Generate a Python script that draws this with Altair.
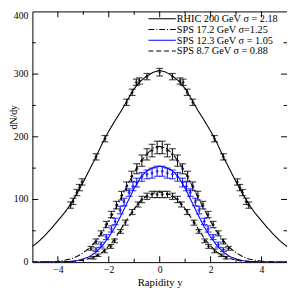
import altair as alt
import pandas as pd

# ---- curves, positive half, mirrored ----
curve_y = [0, 0.25, 0.5, 0.75, 1.0, 1.25, 1.5, 1.75, 2.0, 2.25, 2.5, 2.75,
           3.0, 3.25, 3.5, 3.75, 4.0, 4.25, 4.5, 4.75, 5.0]
rhic_curve = [306, 303, 297, 289, 277, 260, 242, 226, 209, 190, 168, 148,
              128, 110, 92, 78, 66, 54, 43, 33, 25]
sps172_curve = [185, 182, 173, 160, 143, 124, 104, 84, 65, 48, 34, 23,
                15, 9, 5, 3, 1.5, 0.8, 0.4, 0.2, 0.1]
sps123_curve = [153, 151, 146, 135, 118, 97, 76, 56, 40, 26, 16, 9,
                5, 2.5, 1.2, 0.6, 0.3, 0.1, 0.05, 0, 0]
sps87_curve = [112, 110, 106, 98, 85, 70, 54, 38, 26, 16, 10, 6,
               3, 2, 1, 0.5, 0.2, 0.1, 0, 0, 0]

# ---- data points (positive half, mirrored) ----
rhic_py = [0, 0.5, 0.8, 0.92, 1.08, 1.3, 2.15, 2.5, 3.05, 3.15, 3.25, 3.4, 3.5]
rhic_pv = [303, 296, 289, 287, 271, 255, 197, 168, 128, 119, 111, 97, 91]
rhic_pe = [6, 5, 5, 5, 5, 5, 5, 5, 5, 5, 5, 5, 5]

sps172_py = [0.1, 0.3, 0.5, 0.7, 0.9, 1.1, 1.3, 1.5, 1.7, 1.9, 2.1, 2.3, 2.5, 2.7]
sps172_pv = [183, 178, 172, 162, 149, 137, 121, 106, 91, 76, 60, 46, 33, 22]
sps172_pe = [10, 10, 9, 9, 8, 8, 7, 7, 6, 5, 5, 4, 4, 3]

sps123_py = [0.1, 0.3, 0.5, 0.7, 0.9, 1.05, 1.2, 1.4, 1.55, 1.75, 1.9, 2.1, 2.3, 2.5]
sps123_pv = [145, 142, 140, 136, 127, 121, 111, 96, 83, 65, 53, 40, 28, 20]
sps123_pe = [8, 8, 7, 7, 7, 7, 6, 6, 6, 5, 5, 4, 4, 3]

sps87_py = [0.1, 0.3, 0.5, 0.7, 0.85, 1.08, 1.35, 1.54, 1.77, 1.92, 2.16, 2.42, 2.61]
sps87_pv = [108, 108, 105, 100, 92, 80, 63, 49, 34, 25, 18, 11, 7]
sps87_pe = [5, 5, 5, 5, 4, 4, 4, 3, 3, 3, 3, 2, 2]

names = ["RHIC 200 GeV σ = 2.18", "SPS 17.2 GeV σ=1.25",
         "SPS 12.3 GeV σ = 1.05", "SPS 8.7  GeV  σ = 0.88"]
colors = ["black", "black", "#0000ff", "black"]
dashes = [[1, 0], [6, 2, 1, 2], [1, 0], [5, 3]]

ylabel_vals = [0, 100, 200, 300]
ylabel_top = [400]

W, H = 261, 257
xs = alt.Scale(domain=[-5, 5], nice=False)
ys = alt.Scale(domain=[0, 400], nice=False)

xaxis = alt.Axis(values=[-4, -2, 0, 2, 4], ticks=False, domain=False, grid=False,
                 labelFont="Liberation Serif", labelFontSize=10, labelPadding=3,
                 labelColor="black",
                 title="Rapidity y", titleFont="Liberation Serif", titleFontSize=11,
                 titleFontWeight="normal", titlePadding=2, titleColor="black")
yaxis = alt.Axis(values=[0, 100, 200, 300, 400], ticks=False, domain=False, grid=False,
                 labels=False,
                 title="dN/dy", titleFont="Liberation Serif", titleFontSize=10,
                 titleFontWeight="normal", titleX=-14, titleY=108, titleColor="black")

def X(f):
    return alt.X(f, scale=xs, axis=xaxis)

def Y(f):
    return alt.Y(f, scale=ys, axis=yaxis)

def mirror_curve(vals):
    rows = []
    for yy, v in zip(curve_y, vals):
        rows.append((-yy, v))
        if yy != 0:
            rows.append((yy, v))
    rows.sort()
    return pd.DataFrame(rows, columns=["y", "v"])

def mirror_pts(py, pv, pe):
    rows = []
    for yy, v, e in zip(py, pv, pe):
        rows.append((-yy, v, v - e, v + e))
        if yy != 0:
            rows.append((yy, v, v - e, v + e))
    return pd.DataFrame(rows, columns=["y", "v", "lo", "hi"])

layers = []
curves = [rhic_curve, sps172_curve, sps123_curve, sps87_curve]
pts = [(rhic_py, rhic_pv, rhic_pe), (sps172_py, sps172_pv, sps172_pe),
       (sps123_py, sps123_pv, sps123_pe), (sps87_py, sps87_pv, sps87_pe)]

for i in range(4):
    dfc = mirror_curve(curves[i])
    layers.append(alt.Chart(dfc).mark_line(color=colors[i], strokeWidth=1.1,
                                           strokeDash=dashes[i], clip=True).encode(
        x=X("y:Q"), y=Y("v:Q"), order="y:Q"))

for i in range(4):
    dfp = mirror_pts(*pts[i])
    base = alt.Chart(dfp)
    layers.append(base.mark_rule(color=colors[i], strokeWidth=1).encode(
        x=X("y:Q"), y=Y("lo:Q"), y2="hi:Q"))
    layers.append(base.mark_tick(color=colors[i], thickness=1.2, size=7, orient="horizontal").encode(
        x=X("y:Q"), y=Y("lo:Q")))
    layers.append(base.mark_tick(color=colors[i], thickness=1.2, size=7, orient="horizontal").encode(
        x=X("y:Q"), y=Y("hi:Q")))
    layers.append(base.mark_point(color=colors[i], filled=True, size=10, shape="cross").encode(
        x=X("y:Q"), y=Y("v:Q")))

# ---- inward tick marks ----
xmaj = pd.DataFrame({"y": [-4, -2, 0, 2, 4]})
xmin = pd.DataFrame({"y": [-3, -1, 1, 3]})
ymaj = pd.DataFrame({"v": [100, 200, 300]})
ymin = pd.DataFrame({"v": [50, 150, 250, 350]})
for df, ln in [(xmaj, 6), (xmin, 3.5)]:
    layers.append(alt.Chart(df).mark_rule(color="black", strokeWidth=1).encode(
        x=X("y:Q"), y=alt.value(H), y2=alt.value(H - ln)))
    layers.append(alt.Chart(df).mark_rule(color="black", strokeWidth=1).encode(
        x=X("y:Q"), y=alt.value(0), y2=alt.value(ln)))
for df, ln in [(ymaj, 6), (ymin, 3.5)]:
    layers.append(alt.Chart(df).mark_rule(color="black", strokeWidth=1).encode(
        y=Y("v:Q"), x=alt.value(0), x2=alt.value(ln)))
    layers.append(alt.Chart(df).mark_rule(color="black", strokeWidth=1).encode(
        y=Y("v:Q"), x=alt.value(W), x2=alt.value(W - ln)))

# ---- y tick labels ----
ylab = pd.DataFrame({"v": ylabel_vals, "lab": [str(v) for v in ylabel_vals]})
layers.append(alt.Chart(ylab).mark_text(align="right", baseline="middle",
                                        font="Liberation Serif", fontSize=10,
                                        color="black").encode(
    y=Y("v:Q"), x=alt.value(-4), text="lab:N"))
ylab2 = pd.DataFrame({"v": ylabel_top, "lab": [str(v) for v in ylabel_top]})
layers.append(alt.Chart(ylab2).mark_text(align="right", baseline="top",
                                         font="Liberation Serif", fontSize=10,
                                         color="black").encode(
    y=Y("v:Q"), x=alt.value(-4), text="lab:N"))

# ---- legend ----
leg_y = [7.5, 18.5, 29.5, 40.5]
for i in range(4):
    ldf = pd.DataFrame({"name": [names[i]]})
    layers.append(alt.Chart(ldf).mark_rule(color=colors[i], strokeWidth=1.1,
                                           strokeDash=dashes[i]).encode(
        x=alt.value(119), x2=alt.value(147), y=alt.value(leg_y[i])))
    layers.append(alt.Chart(ldf).mark_text(align="left", baseline="middle",
                                           font="Liberation Serif", fontSize=10.5,
                                           color="black").encode(
        x=alt.value(148), y=alt.value(leg_y[i] + 0.5), text="name:N"))

chart = alt.layer(*layers).properties(
    width=W, height=H,
    autosize=alt.AutoSizeParams(type="none"),
    padding={"left": 25, "top": 0, "right": 0, "bottom": 24},
).configure_view(stroke="black", strokeWidth=1)

chart.save("out.html", embed_options={"renderer": "svg", "actions": False})
